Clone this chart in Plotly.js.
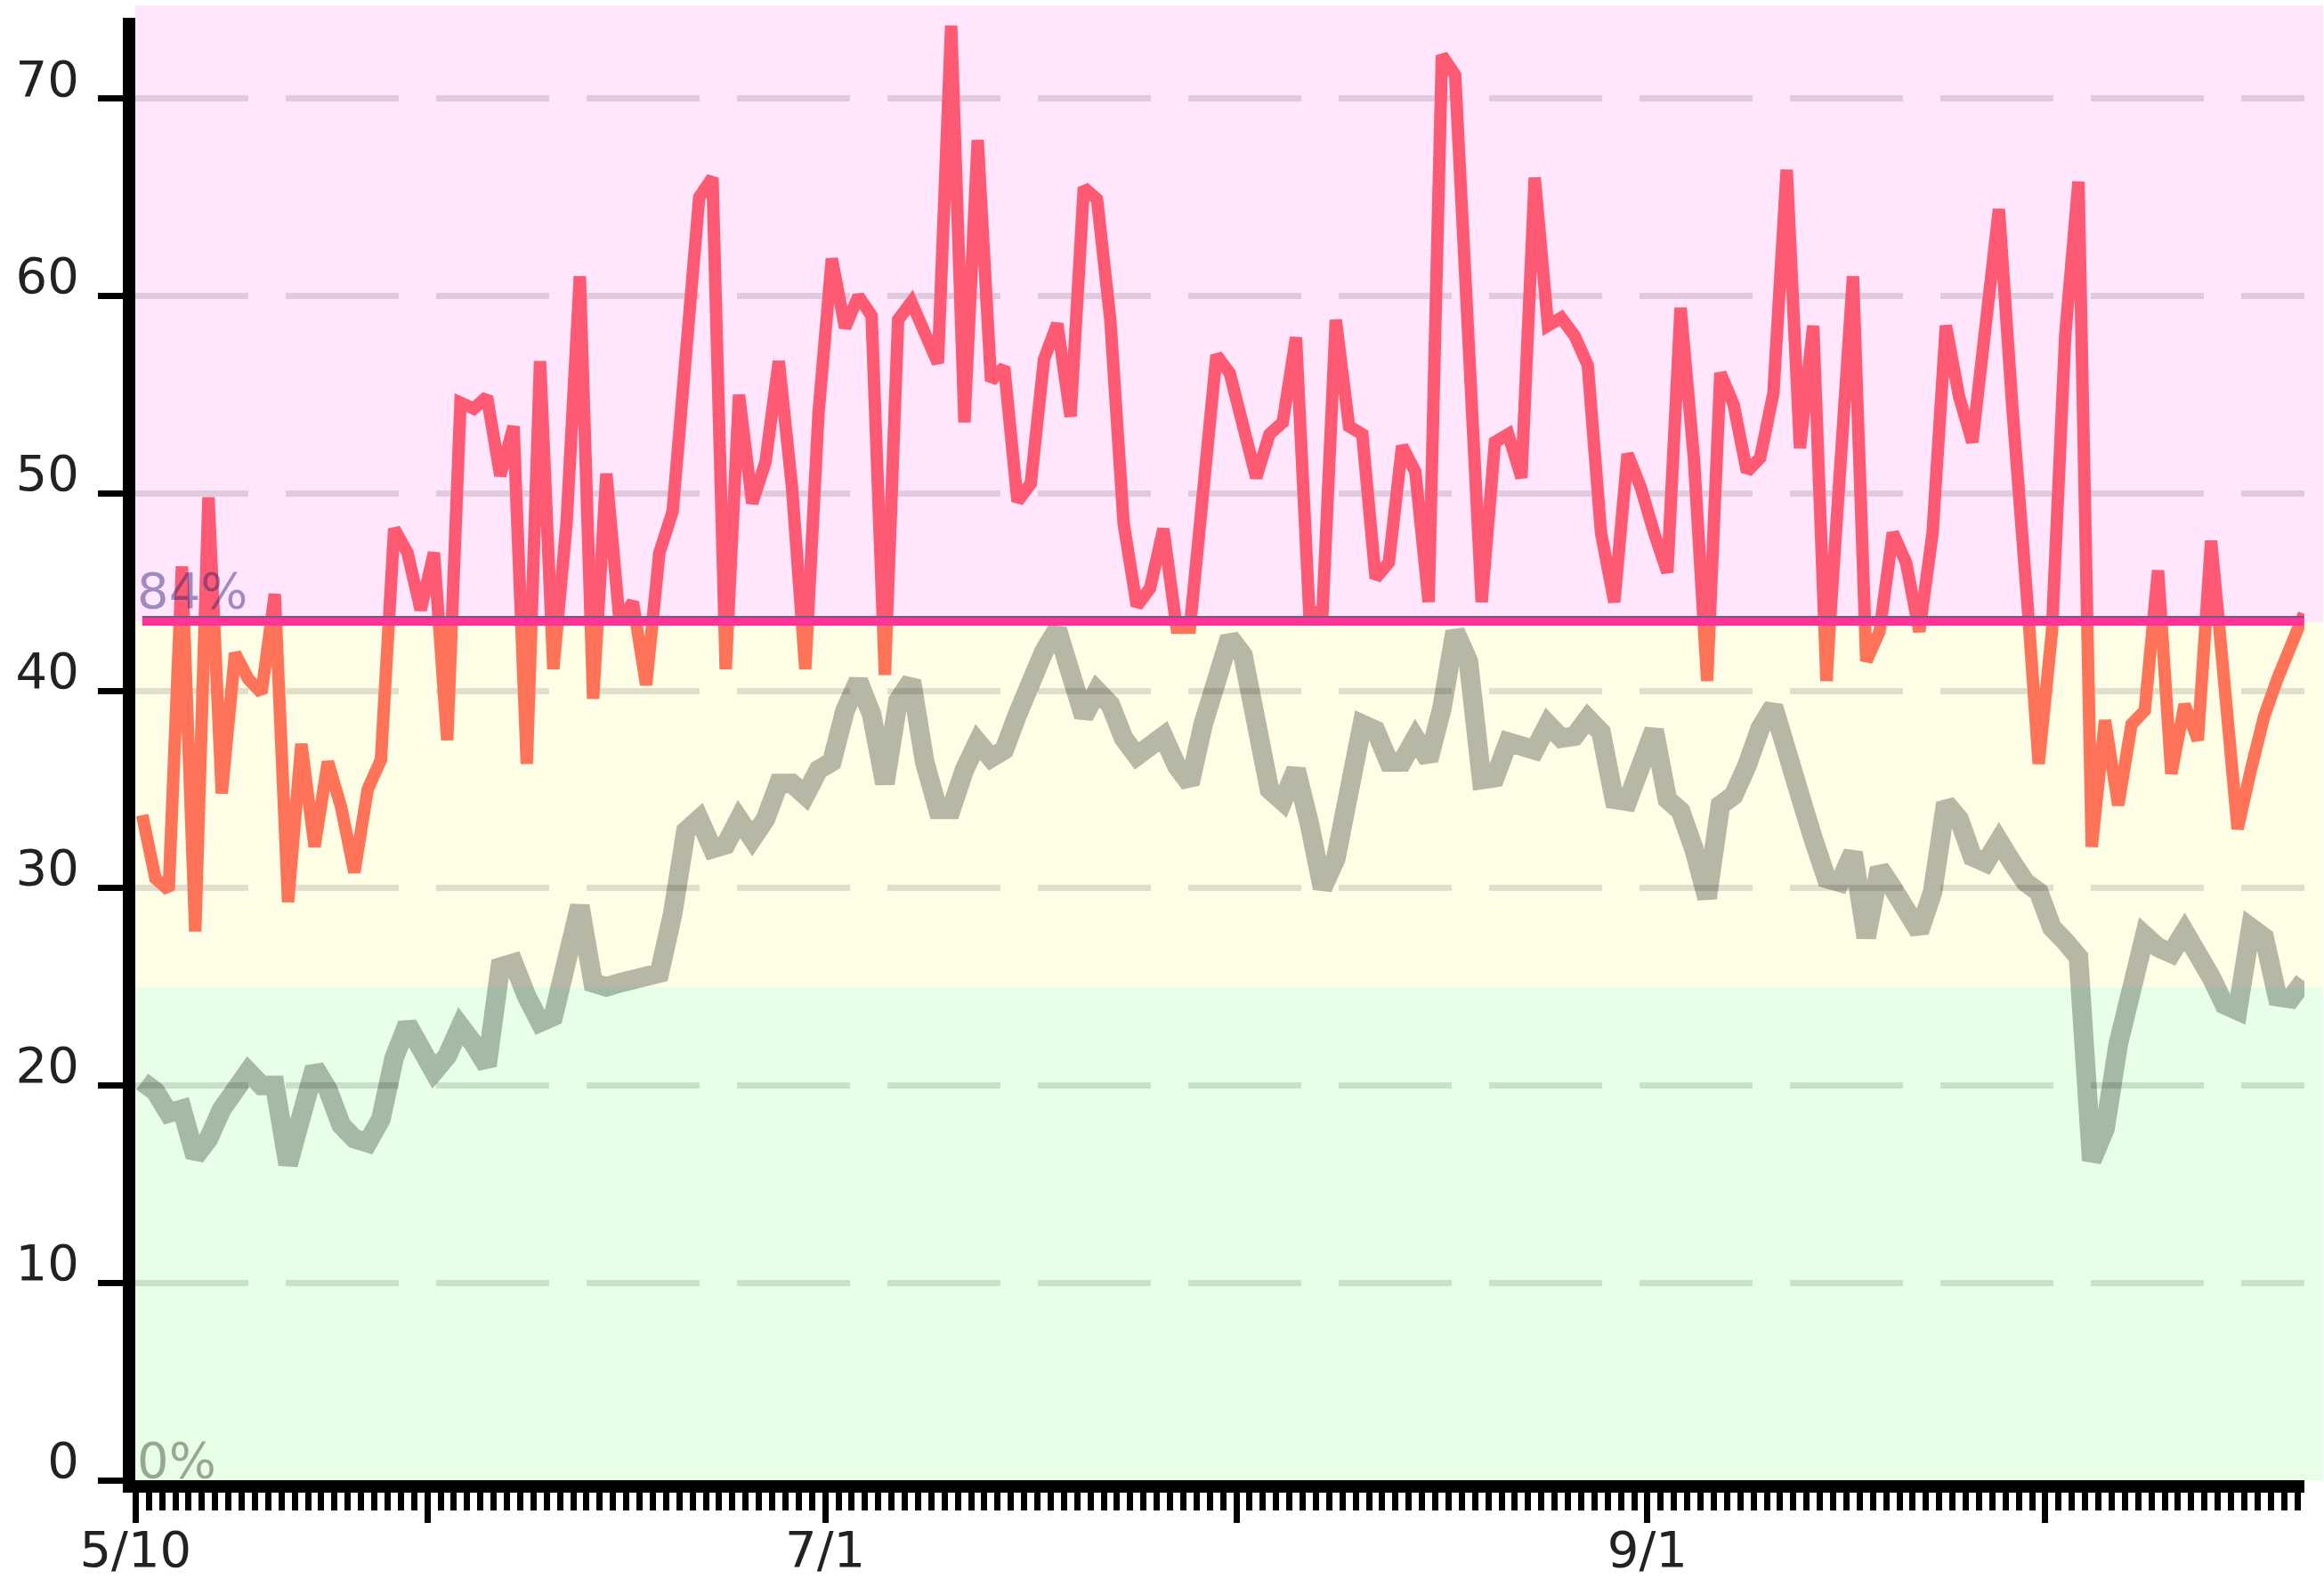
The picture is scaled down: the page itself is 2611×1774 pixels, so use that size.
<!DOCTYPE html>
<html>
<head>
<meta charset="utf-8">
<script src="https://cdn.plot.ly/plotly-3.0.1.min.js"></script>
<style>
html,body{margin:0;padding:0;background:#ffffff;}
#chart{width:2611px;height:1774px;}
</style>
</head>
<body>
<div id="chart"></div>
<script>
// ---- data ----
const startDate = '2023-05-10';
const highValues = [33.7,30.5,29.9,46.3,27.8,49.8,34.8,41.9,40.6,39.9,
44.9,29.3,37.3,32.1,36.4,34.1,30.8,35.0,36.5,48.2,
47.0,44.1,47.0,37.5,54.6,54.3,54.9,50.9,53.4,36.3,
56.7,41.1,48.5,61.0,39.6,51.0,43.5,44.5,40.3,47.0,
49.1,57.6,65.0,66.0,41.1,55.0,49.5,51.6,56.7,50.3,
41.1,54.1,61.9,58.4,60.0,59.0,40.8,58.8,59.7,58.0,
56.6,73.7,53.6,67.9,55.7,56.4,49.6,50.5,56.8,58.6,
53.9,65.5,64.9,58.8,48.5,44.3,45.2,48.2,43.2,43.2,
49.9,57.0,56.1,53.4,50.8,53.0,53.6,57.9,44.0,44.0,
58.8,53.4,53.0,45.7,46.5,52.4,51.1,44.5,72.2,71.2,
57.0,44.5,52.6,53.0,50.8,66.0,58.5,58.9,58.0,56.5,
48.0,44.5,52.0,50.3,48.0,46.0,59.4,51.8,40.5,56.1,
54.5,51.1,51.8,55.1,66.4,52.3,58.5,40.5,52.0,61.0,
41.5,43.0,48.0,46.5,43.0,48.0,58.5,54.9,52.6,59.0,
64.4,54.5,46.0,36.3,43.0,58.0,65.8,32.1,38.5,34.2,
38.3,39.0,46.1,35.8,39.3,37.5,47.6,40.5,33.0,36.0,
38.7,40.6,42.2,43.9];
const avgValues = [20.2,19.7,18.6,18.8,16.4,17.3,18.8,19.8,20.7,20.0,
20.0,16.0,18.3,20.9,19.8,18.0,17.3,17.1,18.3,21.4,
23.1,22.1,20.7,21.5,23.0,22.1,21.0,26.0,26.2,24.5,
23.2,23.5,26.0,29.1,25.2,25.0,25.2,25.4,25.6,25.7,
28.7,32.9,33.5,32.0,32.2,33.5,32.5,33.5,35.3,35.3,
34.7,36.0,36.4,39.0,40.5,38.8,35.3,39.5,40.5,36.4,
34.0,34.0,36.0,37.4,36.6,37.0,38.8,40.7,42.0,43.1,
41.0,38.7,40.0,39.3,37.6,36.7,37.2,37.7,36.2,35.3,
38.3,40.6,42.7,41.8,38.0,35.0,34.4,36.0,33.3,30.0,
31.5,35.4,38.3,38.0,36.4,36.4,37.6,36.5,39.1,43.0,
41.5,35.5,35.6,37.4,37.3,37.0,38.3,37.6,37.7,38.6,
37.9,34.5,34.4,36.6,38.0,34.5,33.9,32.0,29.5,34.2,
34.7,36.2,38.1,39.2,37.3,34.7,32.5,30.5,30.3,31.8,
27.5,31.0,30.0,28.7,27.8,29.8,34.3,33.5,31.6,31.3,
32.4,31.3,30.3,29.8,28.0,27.3,26.5,16.2,17.8,22.1,
25.0,27.6,27.0,26.7,27.8,26.8,25.5,24.1,23.8,28.0,
27.5,24.5,24.4,25.3];
const threshold = 43.5;
const lowBand = 25;
const yMax = 74.1;
const yTickValues = [0,10,20,30,40,50,60,70];
const tickDates = ['2023-05-10','2023-06-01','2023-07-01','2023-08-01','2023-09-01','2023-10-01'];
const tickLabels = ['5/10','','7/1','','9/1',''];
const thresholdLabel = '84%';
const baseLabel = '0%';

// ---- geometry ----
const W = 2611, H = 1774;
const M = {l: 152, r: 22, t: 20, b: 111};
const plotW = W - M.l - M.r, plotH = H - M.t - M.b;
const pxPerDay = 14.9;
const bandTopExtra = 14 / plotH;     // bands reach above the axis top
const bandRightExtra = 21 / plotW;   // bands reach past the axis end

// ---- build ----
const DAY = 86400000;
const t0 = Date.parse(startDate + 'T00:00:00Z');
const xs = highValues.map((_, i) => t0 + (i + 0.5) * DAY);

function splitSeries(x, y, thr) {
  const up = {x: [], y: []}, dn = {x: [], y: []};
  for (let i = 0; i < y.length; i++) {
    const a = y[i] >= thr;
    if (i > 0) {
      const pa = y[i - 1] >= thr;
      if (pa !== a) {
        const f = (thr - y[i - 1]) / (y[i] - y[i - 1]);
        const xc = x[i - 1] + f * (x[i] - x[i - 1]);
        const prev = pa ? up : dn, cur = a ? up : dn;
        prev.x.push(xc); prev.y.push(thr);
        cur.x.push(null); cur.y.push(null);
        cur.x.push(xc); cur.y.push(thr);
      }
    }
    const s = a ? up : dn;
    s.x.push(x[i]); s.y.push(y[i]);
  }
  return {up, dn};
}
const parts = splitSeries(xs, highValues, threshold);

const traces = [
  {type: 'scatter', mode: 'lines', x: xs, y: avgValues,
   line: {color: 'rgba(0,0,0,0.28)', width: 22}, hoverinfo: 'skip'},
  {type: 'scatter', mode: 'lines', x: parts.dn.x, y: parts.dn.y, connectgaps: false,
   line: {color: '#ff7359', width: 14}, hoverinfo: 'skip'},
  {type: 'scatter', mode: 'lines', x: parts.up.x, y: parts.up.y, connectgaps: false,
   line: {color: '#ff5a73', width: 14}, hoverinfo: 'skip'}
];

const band = (v0, v1, color, top) => ({
  type: 'rect', xref: 'paper', yref: 'paper',
  x0: 0, x1: 1 + bandRightExtra,
  y0: v0 / yMax, y1: top ? 1 + bandTopExtra : v1 / yMax,
  fillcolor: color, line: {width: 0}, layer: 'below'
});

const layout = {
  width: W, height: H,
  margin: {l: M.l, r: M.r, t: M.t, b: M.b, pad: 0},
  paper_bgcolor: '#ffffff', plot_bgcolor: 'rgba(0,0,0,0)',
  showlegend: false,
  font: {family: 'DejaVu Sans, sans-serif', size: 56, color: '#222222'},
  xaxis: {
    type: 'date',
    range: [t0 - 0.02 * DAY, t0 + (plotW / pxPerDay - 0.02) * DAY],
    tickmode: 'array', tickvals: tickDates, ticktext: tickLabels,
    ticks: 'outside', ticklen: 34, tickwidth: 7, tickcolor: '#000',
    showline: true, linewidth: 14, linecolor: '#000',
    showgrid: false, zeroline: false,
    ticklabelstandoff: -18,
    minor: {ticks: 'outside', ticklen: 20, tickwidth: 7, tickcolor: '#000',
            tickmode: 'linear', tick0: startDate, dtick: DAY, showgrid: false}
  },
  yaxis: {
    range: [0, yMax],
    tickmode: 'array', tickvals: yTickValues,
    ticks: 'outside', ticklen: 28, tickwidth: 7, tickcolor: '#000',
    ticklabelposition: 'outside',
    ticklabelshift: -23,
    ticklabelstandoff: 10,
    showline: true, linewidth: 14, linecolor: '#000',
    showgrid: true, gridcolor: 'rgba(0,0,0,0.12)', gridwidth: 7, griddash: '127px,42px',
    zeroline: false
  },
  shapes: [
    band(0, lowBand, '#e6ffe6', false),
    band(lowBand, threshold, '#fefee7', false),
    band(threshold, yMax, '#ffe6fc', true),
    {type: 'line', xref: 'x', x0: xs[0], x1: xs[xs.length - 1], yref: 'y', y0: threshold + 0.25, y1: threshold + 0.25,
     line: {color: '#7a5a78', width: 2}, layer: 'above'},
    {type: 'line', xref: 'x', x0: xs[0], x1: xs[xs.length - 1], yref: 'y', y0: threshold, y1: threshold,
     line: {color: '#ff3399', width: 9}, layer: 'above'}
  ],
  annotations: [
    {xref: 'paper', x: 0, xanchor: 'left', yref: 'y', y: threshold, yanchor: 'bottom',
     text: thresholdLabel, showarrow: false, yshift: 0,
     font: {family: 'DejaVu Sans, sans-serif', size: 56, color: 'rgba(40,30,120,0.45)'}},
    {xref: 'paper', x: 0, xanchor: 'left', yref: 'y', y: 0, yanchor: 'bottom',
     text: baseLabel, showarrow: false, yshift: -12,
     font: {family: 'DejaVu Sans, sans-serif', size: 56, color: 'rgba(60,60,40,0.45)'}}
  ]
};

Plotly.newPlot('chart', traces, layout, {staticPlot: true, displayModeBar: false});
</script>
</body>
</html>
